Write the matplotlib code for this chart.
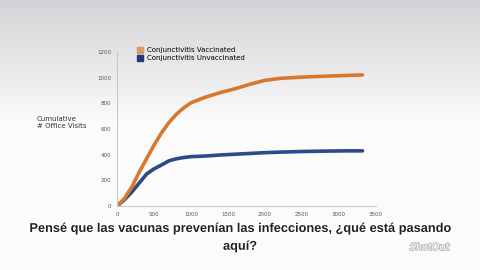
import numpy as np
import matplotlib
matplotlib.use("Agg")
import matplotlib.pyplot as plt
import matplotlib.patheffects as pe
from matplotlib.patches import Patch

# cumulative office visits
days = [0, 100, 200, 300, 400, 500, 600, 700, 800, 900, 1000, 1200, 1400,
        1600, 1800, 2000, 2200, 2500, 2800, 3100, 3320]
vaccinated = [0, 60, 150, 265, 370, 475, 570, 650, 715, 765, 805, 850, 885,
              915, 950, 980, 995, 1005, 1012, 1018, 1022]
unvaccinated = [0, 50, 110, 180, 250, 290, 320, 352, 368, 378, 385, 390, 398,
                404, 410, 416, 420, 425, 428, 430, 430]
yticks = [0, 200, 400, 600, 800, 1000, 1200]
xticks = [0, 500, 1000, 1500, 2000, 2500, 3000, 3500]
caption_lines = ["Pensé que las vacunas prevenían las infecciones, ¿qué está pasando",
                 "aquí?"]

fig = plt.figure(figsize=(4.8, 2.7), dpi=100)

# slide background, greyish at the top fading to white
bg = fig.add_axes([0, 0, 1, 1], zorder=-10)
grad = np.linspace(0, 1, 256).reshape(-1, 1)
top = np.array([0.835, 0.825, 0.84])
bot = np.array([0.985, 0.985, 0.985])
w = np.clip(grad * 2.2, 0, 1)
img = top + (bot - top) * w
bg.imshow(img.reshape(256, 1, 3), aspect="auto", extent=[0, 1, 0, 1])
bg.axis("off")

ax = fig.add_axes([0.244, 0.237, 0.539, 0.570])
ax.patch.set_alpha(0)
ax.plot(days, unvaccinated, color="#2c4a86", lw=2.6, solid_capstyle="round")
ax.plot(days, vaccinated, color="#d9772f", lw=2.6, solid_capstyle="round")
ax.set_xlim(0, 3500)
ax.set_ylim(0, 1200)
ax.set_xticks(xticks)
ax.set_yticks(yticks)
ax.tick_params(labelsize=4, colors="#555555", length=0, pad=4)
for s in ["top", "right"]:
    ax.spines[s].set_visible(False)
for s in ["left", "bottom"]:
    ax.spines[s].set_color("#c8c8c8")
    ax.spines[s].set_linewidth(0.8)

# legend boxes as on the slide
handles = [Patch(color="#d99a6c", label="Conjunctivitis Vaccinated"),
           Patch(color="#25397a", label="Conjunctivitis Unvaccinated")]
ax.legend(handles=handles, loc="upper left", bbox_to_anchor=(0.065, 1.05),
          frameon=False, fontsize=5, handlelength=0.9, handleheight=0.9,
          handletextpad=0.6, labelspacing=0.25, borderaxespad=0)

fig.text(0.077, 0.548, "Cumulative\n# Office Visits", fontsize=5,
         color="#333333", ha="left", va="center", linespacing=1.2)

# subtitle burned into the video, one text per line
for yy, line in zip([0.152, 0.086], caption_lines):
    fig.text(0.5, yy, line, fontsize=9.2, fontweight="bold", ha="center",
             va="center", color="#222222",
             family=["Liberation Sans", "DejaVu Sans"],
             path_effects=[pe.withStroke(linewidth=2, foreground="white")])

fig.text(0.895, 0.085, "ShotOut", fontsize=7, style="italic", ha="center",
         va="center", color="white", zorder=-1,
         path_effects=[pe.withStroke(linewidth=1.2, foreground="#b8b8b8")])

fig.savefig("out.png", dpi=100)
